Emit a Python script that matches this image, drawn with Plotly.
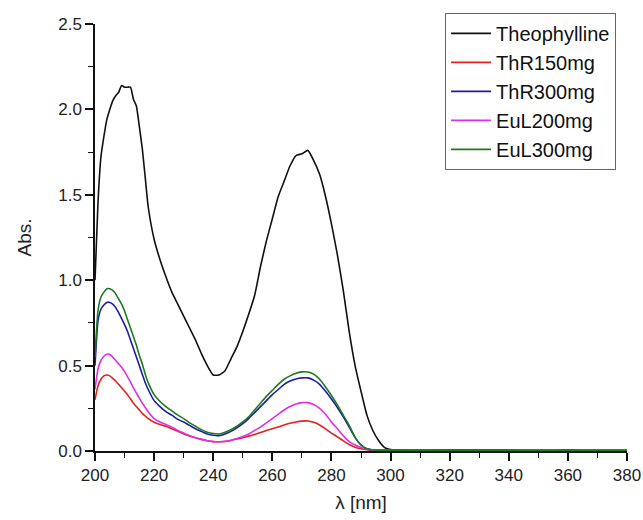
import plotly.graph_objects as go

wavelength = [200, 201, 202, 203, 204, 205, 206, 207, 208, 209, 210, 211, 212, 213, 214, 215, 216, 217, 218,
              220, 222, 224, 226, 228, 230, 232, 234, 236, 238, 240, 242, 244, 246, 248, 250, 252, 254, 256,
              258, 260, 262, 264, 266, 268, 270, 272, 274, 276, 278, 280, 282, 284, 286, 288, 290, 292, 294,
              296, 298, 300, 310, 320, 330, 340, 350, 360, 370, 380]

theophylline = [1.00, 1.45, 1.72, 1.84, 1.94, 2.00, 2.05, 2.08, 2.10, 2.14, 2.13, 2.13, 2.13, 2.06, 2.02, 1.90,
                1.77, 1.60, 1.43, 1.24, 1.12, 1.02, 0.93, 0.86, 0.79, 0.72, 0.65, 0.57, 0.50, 0.445, 0.445,
                0.47, 0.54, 0.61, 0.70, 0.80, 0.91, 1.08, 1.23, 1.36, 1.49, 1.58, 1.67, 1.73, 1.74, 1.76, 1.70,
                1.62, 1.49, 1.33, 1.15, 0.94, 0.70, 0.50, 0.35, 0.21, 0.12, 0.06, 0.02, 0.008, 0.006, 0.005,
                0.006, 0.005, 0.004, 0.005, 0.004, 0.004]

thr150 = [0.30, 0.38, 0.42, 0.44, 0.445, 0.44, 0.425, 0.41, 0.39, 0.37, 0.35, 0.33, 0.305, 0.28, 0.26, 0.24,
          0.22, 0.205, 0.19, 0.168, 0.155, 0.145, 0.13, 0.115, 0.10, 0.088, 0.077, 0.068, 0.06, 0.055, 0.054,
          0.056, 0.062, 0.07, 0.078, 0.087, 0.097, 0.108, 0.12, 0.13, 0.14, 0.152, 0.162, 0.17, 0.175, 0.176,
          0.168, 0.152, 0.13, 0.105, 0.083, 0.06, 0.038, 0.022, 0.013, 0.007, 0.004, 0.004, 0.004, 0.004,
          0.005, 0.004, 0.004, 0.003, 0.003, 0.003, 0.003, 0.003]

thr300 = [0.50, 0.76, 0.83, 0.855, 0.87, 0.87, 0.86, 0.84, 0.81, 0.775, 0.74, 0.70, 0.65, 0.60, 0.55, 0.50,
          0.45, 0.40, 0.36, 0.295, 0.26, 0.23, 0.21, 0.185, 0.17, 0.15, 0.13, 0.115, 0.10, 0.092, 0.09, 0.10,
          0.115, 0.135, 0.16, 0.19, 0.225, 0.26, 0.295, 0.33, 0.36, 0.39, 0.41, 0.422, 0.428, 0.428, 0.415,
          0.39, 0.35, 0.305, 0.255, 0.20, 0.14, 0.08, 0.035, 0.013, 0.006, 0.004, 0.004, 0.004, 0.004, 0.004,
          0.003, 0.003, 0.003, 0.003, 0.003, 0.003]

eul200 = [0.36, 0.48, 0.53, 0.555, 0.567, 0.565, 0.55, 0.53, 0.51, 0.49, 0.465, 0.435, 0.405, 0.37, 0.34,
          0.31, 0.28, 0.255, 0.23, 0.19, 0.17, 0.155, 0.14, 0.12, 0.105, 0.09, 0.078, 0.068, 0.06, 0.055,
          0.054, 0.057, 0.063, 0.073, 0.085, 0.10, 0.12, 0.14, 0.165, 0.19, 0.215, 0.24, 0.26, 0.275, 0.283,
          0.283, 0.272, 0.25, 0.215, 0.17, 0.13, 0.09, 0.055, 0.035, 0.02, 0.01, 0.005, 0.004, 0.004, 0.004,
          0.004, 0.003, 0.003, 0.003, 0.003, 0.003, 0.003, 0.003]

eul300 = [0.55, 0.82, 0.90, 0.93, 0.95, 0.95, 0.94, 0.92, 0.89, 0.86, 0.82, 0.77, 0.72, 0.67, 0.62, 0.56,
          0.51, 0.45, 0.40, 0.33, 0.29, 0.26, 0.235, 0.21, 0.19, 0.165, 0.145, 0.125, 0.11, 0.102, 0.10, 0.11,
          0.125, 0.145, 0.17, 0.20, 0.24, 0.28, 0.32, 0.355, 0.39, 0.42, 0.44, 0.455, 0.463, 0.463, 0.45,
          0.42, 0.375, 0.325, 0.27, 0.21, 0.15, 0.08, 0.035, 0.013, 0.006, 0.004, 0.004, 0.004, 0.004, 0.004,
          0.003, 0.003, 0.003, 0.003, 0.003, 0.003]

series_names = ["Theophylline", "ThR150mg", "ThR300mg", "EuL200mg", "EuL300mg"]
series_values = [theophylline, thr150, thr300, eul200, eul300]
series_colors = ["#111111", "#e3221e", "#1c1ca6", "#e22ee2", "#1d7a1d"]

x_ticks = [200, 220, 240, 260, 280, 300, 320, 340, 360, 380]
y_ticks = [0.0, 0.5, 1.0, 1.5, 2.0, 2.5]

FONT = "Liberation Sans, Arial, sans-serif"

fig = go.Figure()
for name, vals, col in zip(series_names, series_values, series_colors):
    fig.add_trace(go.Scatter(x=wavelength, y=vals, mode="lines", name=name,
                             line=dict(color=col, width=1.6, shape="spline", smoothing=0.5)))

axis_common = dict(
    showline=True, linecolor="#111111", linewidth=1.5, mirror=False,
    ticks="outside", ticklen=8, tickwidth=1.5, tickcolor="#111111",
    showgrid=False, zeroline=False, automargin=False,
    tickfont=dict(family=FONT, size=17, color="#222222"),
)

fig.update_xaxes(range=[200, 380], tickvals=x_ticks, ticktext=[str(v) for v in x_ticks],
                 minor=dict(ticks="outside", ticklen=5, tickwidth=1.2, tickcolor="#111111", dtick=10,
                            tick0=200, showgrid=False),
                 title=dict(text="λ [nm]", font=dict(family=FONT, size=19, color="#222222"), standoff=12),
                 **axis_common)
fig.update_yaxes(range=[0, 2.5], tickvals=y_ticks, ticktext=[f"{v:.1f}" for v in y_ticks],
                 minor=dict(ticks="outside", ticklen=5, tickwidth=1.2, tickcolor="#111111", dtick=0.25,
                            tick0=0, showgrid=False),
                 title=dict(text="Abs.", font=dict(family=FONT, size=19, color="#222222"), standoff=22),
                 **axis_common)

fig.update_layout(
    width=643, height=520,
    margin=dict(l=95, r=16, t=24, b=69, autoexpand=False),
    paper_bgcolor="white", plot_bgcolor="white",
    showlegend=True,
    legend=dict(x=0.658, y=1.026, xanchor="left", yanchor="top",
                bgcolor="white", bordercolor="#666666", borderwidth=1,
                font=dict(family=FONT, size=20, color="#111111"),
                tracegroupgap=0, itemwidth=40),
)

fig.write_html("out.html",
               post_script="document.body.style.margin='0';document.body.style.padding='0';"
                           "document.body.style.overflow='hidden';")
